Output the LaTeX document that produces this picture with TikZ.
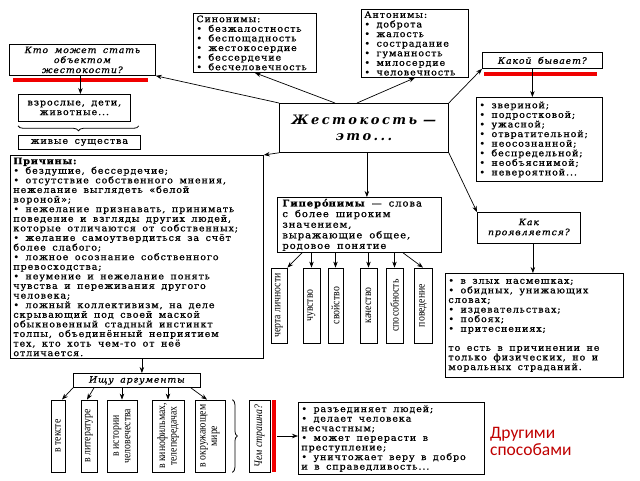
\documentclass[tikz,border=0pt]{standalone}
\usepackage{fontspec}
\setmainfont{DejaVu Serif}
\usetikzlibrary{arrows.meta,calc,decorations.pathreplacing}
\newfontfamily\bodyf[FakeStretch=1.06,FakeBold=0.8]{DejaVu Serif}
\newfontfamily\cenf{DejaVu Serif}
\newfontfamily\vertf[FakeStretch=0.85]{Liberation Serif}
\newfontfamily\redf{Carlito}
\definecolor{dred}{HTML}{C00000}
\definecolor{barred}{HTML}{F00000}
% letter spacing through inter-character tokens
\def\lsamt{0.1}
\count255="0400
\loop\XeTeXcharclass\count255=1 \advance\count255 by 1 \ifnum\count255<"0460 \repeat
\XeTeXcharclass`\,=1 \XeTeXcharclass`\;=1 \XeTeXcharclass`\:=1 \XeTeXcharclass`\.=1
\XeTeXcharclass`\?=1 \XeTeXcharclass`\-=1 \XeTeXcharclass"00AB=1 \XeTeXcharclass"00BB=1
\XeTeXcharclass"2014=1 \XeTeXcharclass"2022=1
\XeTeXinterchartoks 1 1 = {\kern\lsamt em\relax}
\newcommand\lson[1]{\def\lsamt{#1}\XeTeXinterchartokenstate=1\relax}
\newcommand\bfnt{\bodyf\fontsize{9}{9.6}\selectfont\spaceskip=6.5pt plus 2pt minus 1pt\relax\lson{0.1}}
\newcommand\itfnt{\bodyf\itshape\fontsize{8.8}{10}\selectfont\spaceskip=6.5pt plus 2pt minus 1pt\relax\lson{0.1}}
\newcommand\cfnt{\cenf\bfseries\itshape\fontsize{13}{16}\selectfont\spaceskip=6pt plus 2pt minus 1pt\relax\lson{0.19}}
\newcommand\gfnt{\bodyf\fontsize{9.4}{10.6}\selectfont\spaceskip=7pt plus 2pt minus 1pt\relax\lson{0.1}}
\newcommand\vfnt{\vertf\fontsize{11.5}{11.5}\selectfont}
\begin{document}
\begin{tikzpicture}[x=1pt,y=-1pt,
  box/.style={draw, line width=0.8pt, anchor=north west, align=flush left, inner xsep=3pt, inner ysep=1pt, font=\bfnt},
  vbox/.style={draw, line width=0.8pt, rotate=90, align=flush center, inner sep=1pt, font=\vfnt},
  arr/.style={-{Stealth[length=6pt,width=4.5pt]}, line width=0.7pt},
  brc/.style={decorate, decoration={brace, amplitude=5pt}, line width=0.8pt}]
\useasboundingbox[fill=white] (0,0) rectangle (640,480);

% top row
\node[box, text width=140, minimum height=31, align=flush center, font=\itfnt] (kto) at (9,44) {Кто может стать\\объектом\\жестокости?};
\node[box, text width=106, minimum height=27, align=flush center] (vzr) at (18,94) {взрослые, дети,\\животные...};
\node[box, text width=116, minimum height=14, align=flush center] (zhiv) at (18,135) {живые существа};
\node[box, text width=117, minimum height=59] (syn) at (193,13) {Синонимы:\\• безжалостность\\• беспощадность\\• жестокосердие\\• бессердечие\\• бесчеловечность};
\node[box, text width=101, minimum height=68] (ant) at (361,9) {Антонимы:\\• доброта\\• жалость\\• сострадание\\• гуманность\\• милосердие\\• человечность};
\node[box, text width=114, minimum height=16, align=flush center, font=\itfnt] (kakoi) at (482,52) {Какой бывает?};
\node[box, text width=120, minimum height=84] (list1) at (476,97) {• звериной;\\• подростковой;\\• ужасной;\\• отвратительной;\\• неосознанной;\\• беспредельной;\\• необъяснимой;\\• невероятной...};
\node[box, text width=163, minimum height=49, align=flush center, font=\cfnt] (central) at (279,103) {Жестокость —\\это...};

% middle
\node[box, text width=247, minimum height=203] (prich) at (10,155) {\textbf{Причины:}\\• бездушие, бессердечие;\\• отсутствие собственного мнения,\\нежелание выглядеть «белой\\вороной»;\\• нежелание признавать, принимать\\поведение и взгляды других людей,\\которые отличаются от собственных;\\• желание самоутвердиться за счёт\\более слабого;\\• ложное осознание собственного\\превосходства;\\• неумение и нежелание понять\\чувства и переживания другого\\человека;\\• ложный коллективизм, на деле\\скрывающий под своей маской\\обыкновенный стадный инстинкт\\толпы, объединённый неприятием\\тех, кто хоть чем-то от неё\\отличается.};
\node[box, text width=154, inner xsep=5pt, minimum height=55, font=\gfnt] (giper) at (277,197) {\textbf{Гиперо́нимы} — слова\\с более широким\\значением,\\выражающие общее,\\родовое понятие};
\node[box, text width=97, minimum height=31, align=flush center, font=\itfnt] (kak) at (477,212) {Как\\проявляется?};
\node[box, text width=172, minimum height=104] (list2) at (445,273) {• в злых насмешках;\\• обидных, унижающих\\словах;\\• издевательствах;\\• побоях;\\• притеснениях;\\[9.5pt]то есть в причинении не\\только физических, но и\\моральных страданий.};

% hyperonym children
\node[vbox, minimum width=75, minimum height=16] (h1) at (279,305.5) {черта личности};
\node[vbox, minimum width=75, minimum height=17] (h2) at (311.5,305.5) {чувство};
\node[vbox, minimum width=75, minimum height=15] (h3) at (335.5,305.5) {свойство};
\node[vbox, minimum width=75, minimum height=17] (h4) at (368.5,305.5) {качество};
\node[vbox, minimum width=75, minimum height=17] (h5) at (394.5,305.5) {способность};
\node[vbox, minimum width=75, minimum height=18] (h6) at (423,305.5) {поведение};

% bottom
\node[box, text width=121, minimum height=14, align=flush center, font=\itfnt] (ishu) at (73,373) {Ищу аргументы};
\node[vbox, minimum width=72, minimum height=14] (a1) at (58,436) {в тексте};
\node[vbox, minimum width=72, minimum height=16] (a2) at (89,436) {в литературе};
\node[vbox, minimum width=72, minimum height=30] (a3) at (122,436) {в истории\\человечества};
\node[vbox, minimum width=72, minimum height=32] (a4) at (168,436) {в кинофильмах,\\телепередачах};
\node[vbox, minimum width=72, minimum height=30] (a5) at (210,436) {в окружающем\\мире};
\node[vbox, minimum width=72, minimum height=21, font=\vfnt\itshape] (chem) at (259.5,436) {Чем страшна?};
\node[box, text width=180, minimum height=72] (list3) at (298,402) {• разъединяет людей;\\• делает человека\\несчастным;\\• может перерасти в\\преступление;\\• уничтожает веру в добро\\и в справедливость...};
\node[anchor=north west, align=flush left, inner sep=0pt, text=dred, font=\redf\fontsize{17.5}{17.5}\selectfont] (other) at (490,427) {Другими\\способами};

% red bars
\fill[barred] ($(kto.south west)+(4,2)$) rectangle ($(kto.south west)+(139,6)$);
\fill[barred] ($(kakoi.south west)+(2,3)$) rectangle ($(kakoi.south west)+(115,7)$);
\fill[barred] ($(chem.south east)+(2,0)$) rectangle ($(chem.south west)+(6,0)$);

% braces
\draw[brc] ($(vzr.south east)+(8,4)$) -- ($(vzr.south west)+(0,4)$);
\draw[brc] ($(a5.south east)+(7,0)$) -- ($(a5.south west)+(7,0)$);

% connectors from central
\draw[arr] (central.north west) -- (kto.south east);
\draw[arr] ($(central.north west)+(56,0)$) -- (syn.south);
\draw[arr] ($(central.north west)+(78,0)$) -- (ant.south);
\draw[arr] (central.north east) -- (kakoi.south west);
\draw[arr] (central.south west) -- (prich.north east);
\coordinate (c1) at ($(central.south)+(3,0)$);
\draw[arr] (c1) -- (c1 |- giper.north);
\draw[arr] (central.south east) -- (kak.north west);

% other vertical arrows
\coordinate (k0) at ($(kto.south)+(-2,0)$);
\draw[arr] (k0) -- (k0 |- vzr.north);
\coordinate (k1) at ($(kakoi.south)+(-10,0)$);
\draw[arr] (k1) -- (k1 |- list1.north);
\coordinate (k2) at ($(kak.south)+(4,0)$);
\draw[arr] (k2) -- (k2 |- list2.north);
\coordinate (p1) at ($(prich.south)+(5,0)$);
\draw[arr] (p1) -- (p1 |- ishu.north);

% hyperonym arrows
\draw[arr] ($(giper.south west)+(25,0)$) -- (h1.south east);
\draw[arr] (h2.east |- giper.south) -- (h2.east);
\draw[arr] (h3.east |- giper.south) -- (h3.east);
\draw[arr] (h4.east |- giper.south) -- (h4.east);
\draw[arr] (h5.east |- giper.south) -- (h5.east);
\draw[arr] ($(giper.south west)+(126,0)$) -- (h6.east);

% argument arrows
\draw[arr] (ishu.south west) -- ($(a1.east)+(4,0)$);
\draw[arr] ($(ishu.south west)+(21,0)$) -- ($(a2.east)+(-2,0)$);
\draw[arr] (a3.east |- ishu.south) -- (a3.east);
\draw[arr] (a4.east |- ishu.south) -- (a4.east);
\draw[arr] ($(ishu.south east)+(-10,0)$) -- ($(a5.east)+(-3,0)$);

\coordinate (ch1) at ($(chem.south)+(7,0)$);
\draw[arr] (ch1) -- (ch1 -| list3.west);
\end{tikzpicture}
\end{document}
